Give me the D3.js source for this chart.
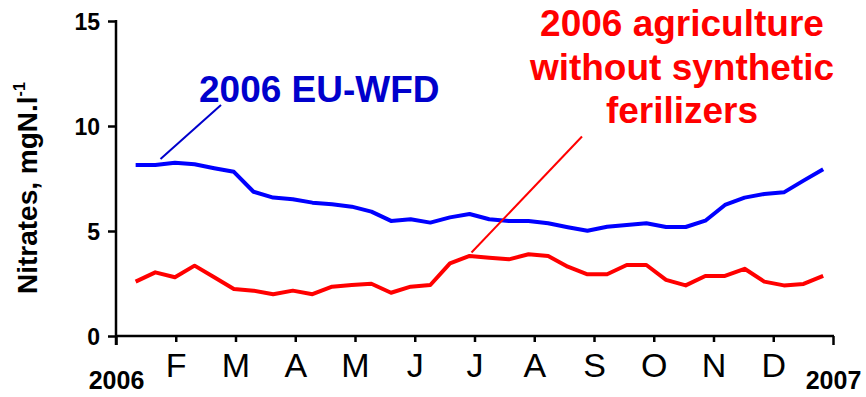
<!DOCTYPE html>
<html>
<head>
<meta charset="utf-8">
<script src="https://cdn.jsdelivr.net/npm/d3@7"></script>
<style>
  html, body { margin: 0; padding: 0; background: #ffffff; }
  svg { display: block; font-family: "Liberation Sans", Arial, sans-serif; }
</style>
</head>
<body>
<svg id="chart" width="866" height="397"></svg>
<script>
// Sampling days (day of year, one sample per dekad)
const days = [10, 20, 30, 40, 50, 60, 70, 80, 90, 100, 110, 120,
              130, 140, 150, 160, 170, 180, 190, 200, 210, 220, 230, 240,
              250, 260, 270, 280, 290, 300, 310, 320, 330, 340, 350, 360];

// Nitrate concentration, mgN/l — EU-WFD scenario
const wfdValues = [8.14, 8.14, 8.25, 8.18, 7.99, 7.82, 6.87, 6.59, 6.51, 6.35, 6.27, 6.16,
                   5.92, 5.48, 5.56, 5.40, 5.65, 5.81, 5.56, 5.48, 5.48, 5.37, 5.18, 5.01,
                   5.20, 5.29, 5.37, 5.19, 5.19, 5.49, 6.24, 6.59, 6.76, 6.84, 7.40, 7.94];

// Nitrate concentration, mgN/l — agriculture without synthetic fertilizers
const organicValues = [2.59, 3.03, 2.80, 3.35, 2.80, 2.24, 2.16, 1.99, 2.16, 1.99, 2.35, 2.43,
                       2.49, 2.06, 2.35, 2.43, 3.46, 3.81, 3.73, 3.65, 3.89, 3.81, 3.30, 2.94,
                       2.94, 3.38, 3.38, 2.67, 2.41, 2.86, 2.86, 3.20, 2.59, 2.41, 2.48, 2.86];

// Axis ticks
const yTicks = [0, 5, 10, 15];
const monthLabels = ["2006", "F", "M", "A", "M", "J", "J", "A", "S", "O", "N", "D", "2007"];

const svg = d3.select("#chart");

const x = d3.scaleLinear().domain([0, 365]).range([116, 833]);
const y = d3.scaleLinear().domain([0, 15]).range([336, 21]);

// Y axis
const yAxis = d3.axisLeft(y)
  .tickValues(yTicks)
  .tickSizeInner(8)
  .tickSizeOuter(0)
  .tickPadding(8);

const gy = svg.append("g")
  .attr("transform", `translate(${x(0)},0)`)
  .call(yAxis);
gy.select(".domain").remove();
gy.selectAll(".tick line").attr("stroke", "#000").attr("stroke-width", 2.5);
gy.selectAll(".tick text")
  .attr("fill", "#000")
  .style("font-size", "23px")
  .style("font-weight", "bold")
  .attr("dy", "0.36em");
// axis spine, running a little below zero
gy.append("line")
  .attr("x1", 0).attr("x2", 0)
  .attr("y1", y(15) - 1).attr("y2", y(0) + 9)
  .attr("stroke", "#000").attr("stroke-width", 2.5);

// X axis: month boundaries evenly spaced over the year
const monthTicks = d3.range(monthLabels.length).map(i => i * 365 / 12);
const xAxis = d3.axisBottom(x)
  .tickValues(monthTicks)
  .tickSizeInner(6)
  .tickSizeOuter(0)
  .tickPadding(6)
  .tickFormat((d, i) => monthLabels[i]);

const gx = svg.append("g")
  .attr("transform", `translate(0,${y(0)})`)
  .call(xAxis);
gx.select(".domain").remove();
gx.append("line")
  .attr("x1", x(0)).attr("x2", x(365) + 1)
  .attr("y1", 0).attr("y2", 0)
  .attr("stroke", "#000").attr("stroke-width", 2.5);
gx.selectAll(".tick line").attr("stroke", "#000").attr("stroke-width", 2.5);
gx.selectAll(".tick line").filter((d, i) => i === 0 || i === monthLabels.length - 1)
  .attr("y2", 9);
gx.selectAll(".tick text")
  .attr("fill", "#000")
  .attr("y", 0)
  .attr("dy", 0)
  .each(function (d, i) {
    const t = d3.select(this);
    if (i === 0 || i === monthLabels.length - 1) {
      t.attr("y", 53).style("font-size", "25px").style("font-weight", "bold");
    } else {
      t.attr("y", 41).style("font-size", "34px").style("font-weight", "normal");
    }
  });

// Y axis title
const yTitle = svg.append("text")
  .attr("transform", "translate(37,294) rotate(-90)")
  .attr("fill", "#000")
  .style("font-size", "28px")
  .style("font-weight", "bold");
yTitle.append("tspan").text("Nitrates, mgN.l");
yTitle.append("tspan")
  .attr("dy", -12)
  .style("font-size", "16px")
  .text("-1");

// Series lines
const line = d3.line()
  .x((d, i) => x(days[i]))
  .y(d => y(d));

svg.append("path")
  .datum(wfdValues)
  .attr("fill", "none")
  .attr("stroke", "#0000ff")
  .attr("stroke-width", 4)
  .attr("stroke-linejoin", "round")
  .attr("d", line);

svg.append("path")
  .datum(organicValues)
  .attr("fill", "none")
  .attr("stroke", "#ff0000")
  .attr("stroke-width", 4)
  .attr("stroke-linejoin", "round")
  .attr("d", line);

// Series annotations with leader lines
svg.append("line")
  .attr("x1", 160.5).attr("y1", 159)
  .attr("x2", 221).attr("y2", 105)
  .attr("stroke", "#0000cc").attr("stroke-width", 2);

svg.append("text")
  .attr("x", 199).attr("y", 101.5)
  .attr("fill", "#0000cc")
  .style("font-size", "37px")
  .style("font-weight", "bold")
  .text("2006 EU-WFD");

svg.append("line")
  .attr("x1", 471.5).attr("y1", 252.5)
  .attr("x2", 582).attr("y2", 136.5)
  .attr("stroke", "#ff0000").attr("stroke-width", 2);

const redLines = ["2006 agriculture", "without synthetic", "ferilizers"];
svg.append("g")
  .selectAll("text")
  .data(redLines)
  .join("text")
  .attr("x", 682)
  .attr("y", (d, i) => 36 + i * 43.7)
  .attr("text-anchor", "middle")
  .attr("fill", "#ff0000")
  .style("font-size", "37px")
  .style("font-weight", "bold")
  .text(d => d);
</script>
</body>
</html>
